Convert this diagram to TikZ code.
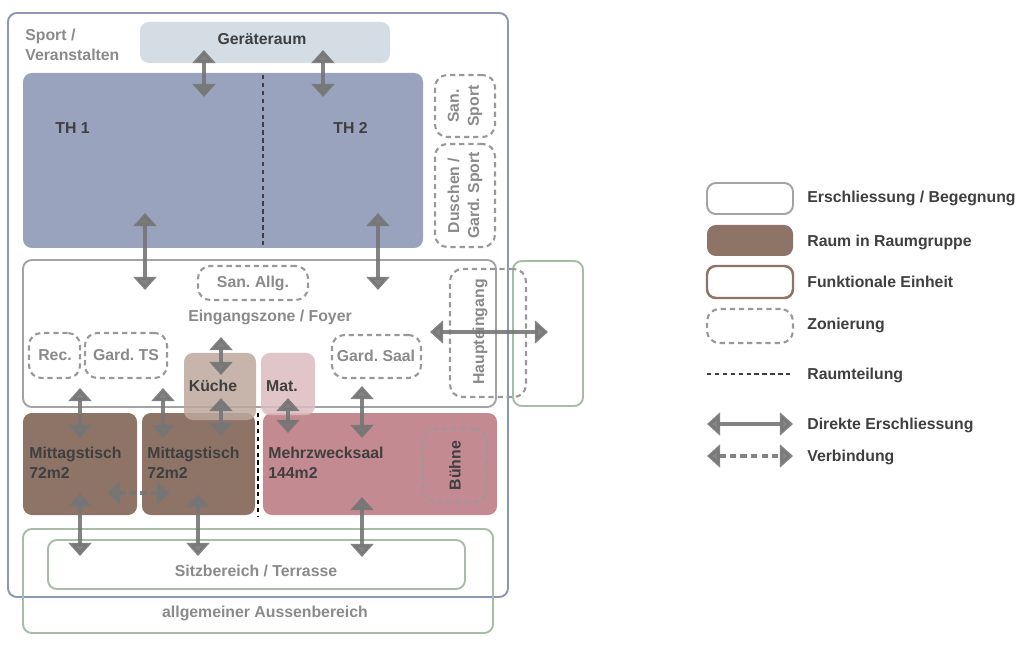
\documentclass[tikz,border=0pt]{standalone}
\usepackage{fontspec}
\setmainfont{Liberation Sans}
\frenchspacing
\usetikzlibrary{arrows.meta,positioning,calc,fit,backgrounds}

\definecolor{sportblau}{HTML}{8C97B6}
\definecolor{thblau}{HTML}{9AA3BE}
\definecolor{geraet}{HTML}{D3DDE3}
\definecolor{rahmengrau}{HTML}{A3A3A3}
\definecolor{zonengrau}{HTML}{999999}
\definecolor{pfeilgrau}{HTML}{767676}
\definecolor{braun}{HTML}{8E7367}
\definecolor{kueche}{HTML}{BDA89E}
\definecolor{matrosa}{HTML}{DDBBC0}
\definecolor{saal}{HTML}{C48A92}
\definecolor{gruen}{HTML}{A9BCA8}
\definecolor{textgrau}{HTML}{8A8A8A}
\definecolor{textdunkel}{HTML}{3F3F3F}

\begin{document}
\begin{tikzpicture}[x=0.02cm, y=-0.02cm,
    every node/.style={font=\fontsize{9}{11.3}\selectfont\bfseries, inner sep=0pt},
    feld/.style={rounded corners=5pt, line width=1.1pt},
    zone/.style={draw=zonengrau, line width=1.2pt, dash pattern=on 3pt off 2.2pt, rounded corners=7pt},
    raumteil/.style={line width=1pt, dash pattern=on 2.5pt off 2pt},
    direkt/.style={draw=pfeilgrau, opacity=0.9, line width=1.8pt,
        {Triangle[width=13pt,length=7.5pt]}-{Triangle[width=13pt,length=7.5pt]}},
    verbind/.style={direkt, dash pattern=on 3.5pt off 2.5pt},
    hell/.style={text=textgrau},
    dunkel/.style={text=textdunkel}]
    \useasboundingbox (0,0) rectangle (1024,658);

    % Sport / Veranstalten
    \node[feld, draw=sportblau, fit={(8,13) (508,597)}] (sport) {};
    \node[hell, anchor=west, align=left] (sportlabel) at (25,45) {Sport /\\Veranstalten};
    \node[feld, fill=geraet, fit={(140,22) (390,63)}] (geraet) {};
    \node[dunkel] (geraetlabel) at (262,39) {Geräteraum};
    \node[feld, fill=thblau, fit={(23,73) (423,248)}] (th) {};
    \draw[raumteil, draw=textdunkel] (263,75) -- (263,245);
    \node[dunkel, anchor=west] (th1) at (55,128) {TH 1};
    \node[dunkel, anchor=west] (th2) at (333,128) {TH 2};
    \node[zone, fit={(435,75) (495,137)}] (sansport) {};
    \node[hell, rotate=90, align=center] at (sansport.center) {San.\\Sport};
    \node[zone, fit={(435,144) (495,247)}] (duschen) {};
    \node[hell, rotate=90, align=center] at (duschen.center) {Duschen /\\Gard. Sport};

    % Eingangszone und Aussenbereich
    \node[feld, draw=rahmengrau, fit={(23,260) (496,407)}] (foyer) {};
    \node[hell] (foyerlabel) at (270,317) {Eingangszone / Foyer};
    \node[feld, draw=gruen, fit={(513,261) (583,406)}] (vorplatz) {};
    \node[feld, draw=gruen, fit={(23,529) (493,633)}] (aussen) {};
    \node[hell] (aussenlabel) at (265,613) {allgemeiner Aussenbereich};
    \node[feld, draw=gruen, fit={(48,540) (465,589)}] (sitz) {};
    \node[hell] (sitzlabel) at (256,571) {Sitzbereich / Terrasse};

    % Raeume
    \node[feld, fill=braun, fit={(23,413) (137,515)}] (mt1) {};
    \node[dunkel, anchor=west, align=left] at (29,463) {Mittagstisch\\72m2};
    \node[feld, fill=braun, fit={(142,413) (255,515)}] (mt2) {};
    \node[dunkel, anchor=west, align=left] at (147,463) {Mittagstisch\\72m2};
    \draw[raumteil, draw=black] (258,413) -- (258,517);
    \node[feld, fill=saal, fit={(263,413) (497,515)}] (saal) {};
    \node[dunkel, anchor=west, align=left] at (268,463) {Mehrzwecksaal\\144m2};
    \node[zone, draw=zonengrau!80!saal, fit={(423,429) (487,502)}] (buehne) {};
    \node[dunkel, rotate=90] at (buehne.center) {Bühne};
    \node[feld, fill=kueche, fill opacity=0.85, fit={(184,353) (256,420)}] (kueche) {};
    \node[dunkel] at (213,386) {Küche};
    \node[feld, fill=matrosa, fill opacity=0.85, fit={(261,353) (315,415)}] (mat) {};
    \node[dunkel] at (282,386) {Mat.};

    % Zonierung
    \node[zone, fit={(198,266) (308,300)}] (sanallg) {};
    \node[hell] at (253,283) {San. Allg.};
    \node[zone, fit={(29,333) (80,378)}] (rec) {};
    \node[hell] at (55,355) {Rec.};
    \node[zone, fit={(85,333) (167,378)}] (gardts) {};
    \node[hell] at (126,355) {Gard. TS};
    \node[zone, fit={(332,335) (421,378)}] (gardsaal) {};
    \node[hell] at (376,356) {Gard. Saal};
    \node[zone, fit={(450,269) (526,397)}] (haupt) {};
    \node[hell, rotate=90] at (480,332) {Haupteingang};

    % Erschliessung
    \coordinate (g1a) at (204,50);  \coordinate (g1b) at (204,97);
    \coordinate (g2a) at (323,50);  \coordinate (g2b) at (323,97);
    \coordinate (t1a) at (145,213); \coordinate (t1b) at (145,290);
    \coordinate (t2a) at (378,213); \coordinate (t2b) at (378,290);
    \coordinate (k1a) at (221,337); \coordinate (k1b) at (221,375);
    \coordinate (k2a) at (221,398); \coordinate (k2b) at (221,436);
    \coordinate (m1a) at (288,398); \coordinate (m1b) at (288,433);
    \coordinate (r1a) at (80,388);  \coordinate (r1b) at (80,438);
    \coordinate (r2a) at (163,388); \coordinate (r2b) at (163,438);
    \coordinate (s1a) at (362,386); \coordinate (s1b) at (362,438);
    \coordinate (h1a) at (430,332); \coordinate (h1b) at (548,332);
    \coordinate (u1a) at (80,493);  \coordinate (u1b) at (80,556);
    \coordinate (u2a) at (198,494); \coordinate (u2b) at (198,556);
    \coordinate (u3a) at (362,497); \coordinate (u3b) at (362,557);
    \coordinate (v1a) at (107,493); \coordinate (v1b) at (170,493);
    \draw[direkt] (g1a) -- (g1b);
    \draw[direkt] (g2a) -- (g2b);
    \draw[direkt] (t1a) -- (t1b);
    \draw[direkt] (t2a) -- (t2b);
    \draw[direkt] (k1a) -- (k1b);
    \draw[direkt] (k2a) -- (k2b);
    \draw[direkt] (m1a) -- (m1b);
    \draw[direkt] (r1a) -- (r1b);
    \draw[direkt] (r2a) -- (r2b);
    \draw[direkt] (s1a) -- (s1b);
    \draw[direkt] (h1a) -- (h1b);
    \draw[direkt] (u1a) -- (u1b);
    \draw[direkt] (u2a) -- (u2b);
    \draw[direkt] (u3a) -- (u3b);
    \draw[verbind] (v1a) -- (v1b);

    % Legende
    \node[feld, draw=rahmengrau, fit={(707,183) (793,214)}] (lg1) {};
    \node[dunkel, anchor=west] (lt1) at (807,198) {Erschliessung / Begegnung};
    \node[feld, fill=braun, fit={(707,225) (793,256)}] (lg2) {};
    \node[dunkel, anchor=west] (lt2) at (807,242) {Raum in Raumgruppe};
    \node[feld, draw=braun, line width=1.4pt, fit={(707,266) (793,298)}] (lg3) {};
    \node[dunkel, anchor=west] (lt3) at (807,282) {Funktionale Einheit};
    \node[zone, fit={(707,309) (793,343)}] (lg4) {};
    \node[dunkel, anchor=west] (lt4) at (807,325) {Zonierung};
    \coordinate (lg5a) at (707,374); \coordinate (lg5b) at (791,374);
    \draw[raumteil, draw=textdunkel] (lg5a) -- (lg5b);
    \node[dunkel, anchor=west] (lt5) at (807,375) {Raumteilung};
    \coordinate (lg6a) at (707,424); \coordinate (lg6b) at (793,424);
    \draw[direkt] (lg6a) -- (lg6b);
    \node[dunkel, anchor=west] (lt6) at (807,425) {Direkte Erschliessung};
    \coordinate (lg7a) at (707,456); \coordinate (lg7b) at (793,456);
    \draw[verbind] (lg7a) -- (lg7b);
    \node[dunkel, anchor=west] (lt7) at (807,457) {Verbindung};
\end{tikzpicture}
\end{document}
